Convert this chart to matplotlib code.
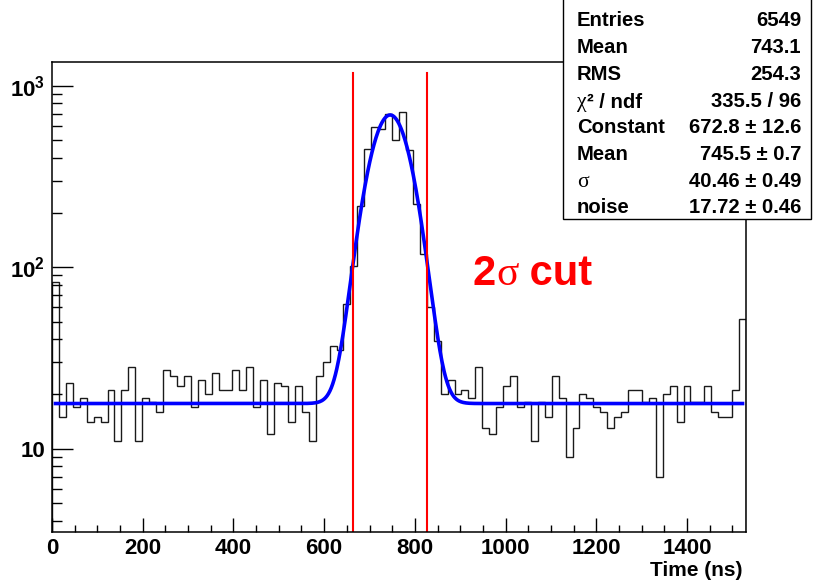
#---------------------------------------------------------------------- Packages used ----------------------------------------------------------------------#
import numpy as np
import matplotlib
matplotlib.use('Agg')
import matplotlib.pyplot as plt
from matplotlib.patches import Rectangle
from matplotlib.text import Annotation
from matplotlib.ticker import FixedLocator, MultipleLocator, LogLocator, NullFormatter
#-----------------------------------------------------------------------------------------------------------------------------------------------------------#

# histogram: 100 bins between 0 and 1530 ns
x_min = 0.0
x_max = 1530.0
counts = [83, 15, 23, 17, 19, 14, 15, 14, 21, 11,
          21, 28, 11, 19, 18, 16, 27, 25, 22, 25,
          17, 24, 20, 26, 21, 21, 27, 21, 28, 17,
          24, 12, 23, 22, 14, 22, 16, 11, 25, 30,
          37, 35, 63, 101, 217, 447, 590, 576, 700, 505,
          720, 443, 223, 118, 60, 39, 20, 24, 20, 21,
          19, 28, 13, 12, 17, 22, 25, 17, 18, 11,
          18, 15, 25, 19, 9, 13, 20, 19, 17, 16,
          13, 15, 16, 21, 21, 18, 19, 7, 20, 22,
          14, 22, 18, 18, 22, 16, 15, 15, 21, 52]

# fit parameters (gaus + constant noise)
fit_constant = 672.8
fit_mean = 745.5
fit_sigma = 40.46
fit_noise = 17.72

# stats box
stat_labels = ["Entries", "Mean", "RMS", "χ² / ndf", "Constant", "Mean", "σ", "noise"]
stat_values = ["6549", "743.1", "254.3", "335.5 / 96", "672.8 ± 12.6",
               "745.5 ± 0.7", "40.46 ± 0.49", "17.72 ± 0.46"]

x_ticks = [0, 200, 400, 600, 800, 1000, 1200, 1400]
y_ticks = [10, 100, 1000]
y_tick_labels = ["10", r"$\mathbf{10^{2}}$", r"$\mathbf{10^{3}}$"]
y_range = (3.47, 1352)
cut_top = 1175

plt.rcParams['font.family'] = ['Liberation Sans', 'DejaVu Sans']
plt.rcParams['font.weight'] = 'bold'
plt.rcParams['mathtext.fontset'] = 'custom'
plt.rcParams['mathtext.bf'] = 'Liberation Sans:bold'
plt.rcParams['mathtext.rm'] = 'Liberation Sans:bold'

W, H = 813, 580
SERIF = ['Liberation Serif', 'DejaVu Serif']
STAT_FS = 14.6


def fx(px):
    return px / W


def fy(py):
    return 1 - py / H


def fit_function(x):
    return fit_noise + fit_constant * np.exp(-0.5 * ((x - fit_mean) / fit_sigma) ** 2)


fig = plt.figure(figsize=(W / 100, H / 100), dpi=100)
ax = fig.add_axes([fx(52), fy(532), fx(746) - fx(52), fy(62) - fy(532)])

# ------------------------------------------------------------------ histogram + fit ------------------------------------------------------------------#
edges = np.linspace(x_min, x_max, len(counts) + 1)
ax.stairs(counts, edges, baseline=1, color='#1a1a1a', lw=1.0)

centers = 0.5 * (edges[1:] + edges[:-1])
xs = np.linspace(centers[0], centers[-1], 1000)
ax.plot(xs, fit_function(xs), color='#0000ff', lw=2.6)

# 2 sigma cut lines
for xc in (fit_mean - 2 * fit_sigma, fit_mean + 2 * fit_sigma):
    ax.plot([xc, xc], [y_range[0], cut_top], color='#ff0000', lw=1.5)

ax.set_yscale('log')
ax.set_xlim(x_min, x_max)
ax.set_ylim(*y_range)

# ------------------------------------------------------------------ axes style ------------------------------------------------------------------#
for s in ax.spines.values():
    s.set_linewidth(1.1)
ax.xaxis.set_major_locator(FixedLocator(x_ticks))
ax.xaxis.set_minor_locator(MultipleLocator(50))
ax.set_xticklabels([str(t) for t in x_ticks])
ax.yaxis.set_major_locator(FixedLocator(y_ticks))
ax.set_yticklabels(y_tick_labels)
ax.yaxis.set_minor_locator(LogLocator(base=10, subs=np.arange(2, 10)))
ax.yaxis.set_minor_formatter(NullFormatter())
ax.tick_params(axis='x', which='major', direction='in', length=10, width=1, labelsize=16, pad=4)
ax.tick_params(axis='x', which='minor', direction='in', length=5, width=1)
ax.tick_params(axis='y', which='major', direction='in', length=15, width=1, labelsize=16, pad=5)
ax.tick_params(axis='y', which='minor', direction='in', length=7.5, width=1)
ax.tick_params(top=False, right=False, which='both')

fig.text(fx(742), fy(570), "Time (ns)", ha='right', va='center', fontsize=15, fontweight='bold')

# ------------------------------------------------------------------ "2 sigma cut" label ------------------------------------------------------------------#
t1 = ax.text(928, 80, "2", color='#ff0000', fontsize=30, fontweight='bold', va='baseline', ha='left')
t2 = ax.annotate("σ", xy=(1, 0), xycoords=t1, color='#ff0000', fontsize=30, fontweight='normal',
                 family=SERIF, va='bottom', ha='left')
ax.annotate(" cut", xy=(1, 0), xycoords=t2, color='#ff0000', fontsize=30, fontweight='bold',
            va='bottom', ha='left')

# ------------------------------------------------------------------ stats box ------------------------------------------------------------------#
box = Rectangle((fx(563), fy(219)), fx(811) - fx(563), fy(-5) - fy(219), transform=fig.transFigure,
                facecolor='white', edgecolor='black', lw=1.0, zorder=5)
fig.add_artist(box)

for i, (lab, val) in enumerate(zip(stat_labels, stat_values)):
    yb = fy(26.5 + 26.7 * i)
    if lab.startswith("χ"):
        t = fig.text(fx(577), yb, "χ", fontsize=STAT_FS + 1, fontweight='normal',
                     family=SERIF, va='baseline', ha='left', zorder=6)
        rest = Annotation(lab[1:], xy=(1, 0), xycoords=t, fontsize=STAT_FS, fontweight='bold',
                          va='bottom', ha='left', annotation_clip=False)
        rest.set_zorder(6)
        fig.add_artist(rest)
    elif lab == "σ":
        fig.text(fx(577), yb, lab, fontsize=STAT_FS + 1, fontweight='normal',
                 family=SERIF, va='baseline', ha='left', zorder=6)
    else:
        fig.text(fx(577), yb, lab, fontsize=STAT_FS, fontweight='bold', va='baseline', ha='left', zorder=6)
    fig.text(fx(801), yb, val, fontsize=STAT_FS, fontweight='bold', va='baseline', ha='right', zorder=6)

fig.savefig('out.png', dpi=100)
